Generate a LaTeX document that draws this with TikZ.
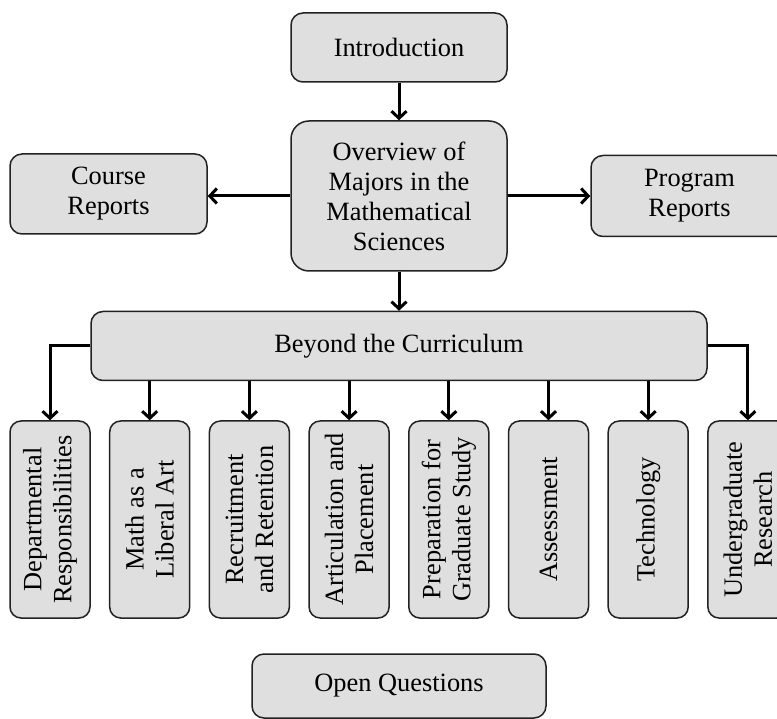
\documentclass[tikz,border=0pt]{standalone}
\usepackage{fontspec}
\setmainfont{Liberation Serif}
\usetikzlibrary{arrows.meta}
\definecolor{boxfill}{HTML}{DFDFDF}
\definecolor{boxline}{HTML}{222222}
\begin{document}
\begin{tikzpicture}[x=1pt,y=-1pt,
  box/.style={draw=boxline,line width=1.5pt,fill=boxfill,rounded corners=12pt,
    align=center,inner sep=0pt,font=\fontsize{26.4}{30}\selectfont},
  vbox/.style={box,rotate=90,minimum width=197pt,minimum height=80pt,rounded corners=11pt},
  conn/.style={line width=3pt,-{Straight Barb[length=7pt,width=15pt]}},
]
\useasboundingbox (0,0) rectangle (777,719);
\node[box,minimum width=216pt,minimum height=69pt] (intro) at (399,47.5) {Introduction};
\node[box,minimum width=216pt,minimum height=150pt,rounded corners=18pt] (ov) at (399,196) {Overview of\\Majors in the\\Mathematical\\Sciences};
\node[box,minimum width=197pt,minimum height=80pt] (cr) at (108.5,194) {Course\\Reports};
\node[box,minimum width=197pt,minimum height=81pt] (pr) at (689.5,196) {Program\\Reports};
\node[box,minimum width=616pt,minimum height=69pt] (bc) at (399,346) {Beyond the Curriculum};
\node[vbox] (b1) at (50,519.5) {Departmental\\Responsibilities};
\node[vbox] (b2) at (149.7,519.5) {Math as a\\Liberal Art};
\node[vbox] (b3) at (249.4,519.5) {Recruitment\\and Retention};
\node[vbox] (b4) at (349.1,519.5) {Articulation and\\Placement};
\node[vbox] (b5) at (448.8,519.5) {Preparation for\\Graduate Study};
\node[vbox] (b6) at (548.5,519.5) {Assessment};
\node[vbox] (b7) at (648.2,519.5) {Technology};
\node[vbox] (b8) at (747.9,519.5) {Undergraduate\\Research};
\node[box,minimum width=294pt,minimum height=64pt] (oq) at (399,686) {Open Questions};

\draw[conn] (intro.south) -- (ov.north);
\draw[conn] (ov.west) -- (ov.west -| cr.east);
\draw[conn] (ov.east) -- (ov.east -| pr.west);
\draw[conn] (ov.south) -- (bc.north);
\draw[conn] (bc.west) -| (b1.east);
\draw[conn] (bc.east) -| (b8.east);
\foreach \b in {b2,b3,b4,b5,b6,b7}{
  \draw[conn] (bc.south -| \b.east) -- (\b.east);
}
\end{tikzpicture}
\end{document}
